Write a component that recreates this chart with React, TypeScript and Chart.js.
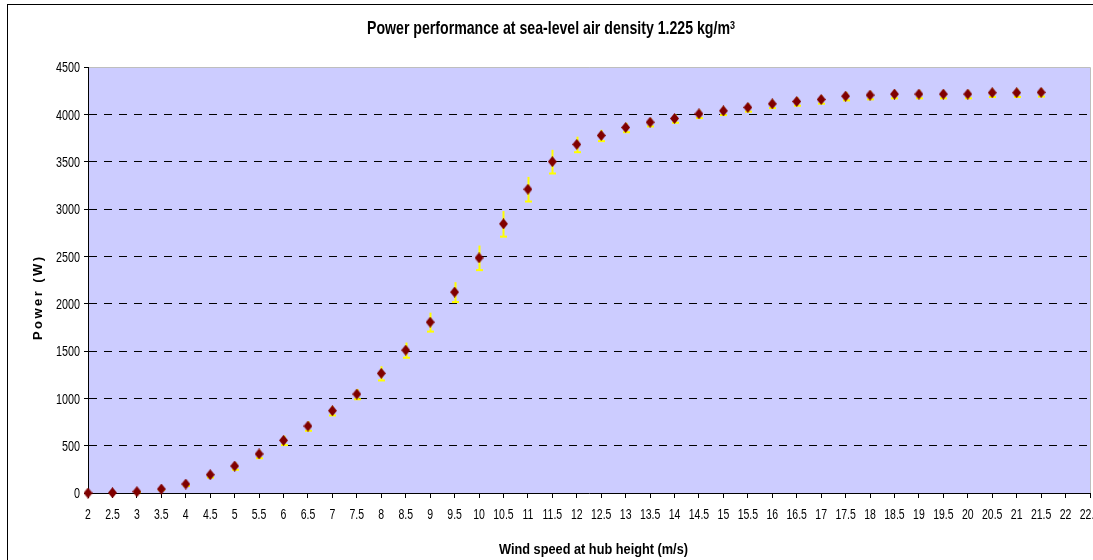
import React, { useEffect, useRef } from 'react';
import { Chart, registerables } from 'chart.js';

Chart.register(...registerables);

// ---- Data ----
const windSpeedLabels = [
  '2', '2.5', '3', '3.5', '4', '4.5', '5', '5.5', '6', '6.5', '7', '7.5', '8', '8.5',
  '9', '9.5', '10', '10.5', '11', '11.5', '12', '12.5', '13', '13.5', '14', '14.5',
  '15', '15.5', '16', '16.5', '17', '17.5', '18', '18.5', '19', '19.5', '20', '20.5',
  '21', '21.5', '22', '22.5',
];

const powerValues = [
  0, 3, 14, 42, 95, 193, 285, 412, 556, 707, 869, 1045, 1264, 1509, 1805, 2122,
  2484, 2843, 3209, 3500, 3682, 3777, 3861, 3917, 3956, 4005, 4037, 4073, 4111,
  4136, 4157, 4192, 4203, 4214, 4214, 4214, 4214, 4228, 4228, 4232,
];

const powerErrors = [
  0, 0, 5, 10, 20, 30, 40, 45, 50, 50, 50, 55, 75, 80, 100, 105, 130, 135, 130,
  125, 82, 60, 50, 45, 45, 45, 45, 45, 45, 45, 45, 45, 45, 45, 45, 45, 45, 45, 45, 45,
];

const yMin = 0;
const yMax = 4500;
const yStep = 500;

const TITLE = 'Power performance at sea-level air density 1.225 kg/m';
const TITLE_SUP = '3';
const X_TITLE = 'Wind speed at hub height (m/s)';
const Y_TITLE = 'Power (W)';

const FONT = '"Liberation Sans", Arial, Helvetica, sans-serif';

function drawScaledText(
  ctx: CanvasRenderingContext2D,
  text: string,
  x: number,
  y: number,
  font: string,
  align: 'left' | 'center' | 'right',
  sx: number
) {
  ctx.save();
  ctx.font = font;
  ctx.textBaseline = 'alphabetic';
  ctx.textAlign = 'left';
  const w = ctx.measureText(text).width * sx;
  const left = align === 'center' ? x - w / 2 : align === 'right' ? x - w : x;
  ctx.translate(left, y);
  ctx.scale(sx, 1);
  ctx.fillText(text, 0, 0);
  ctx.restore();
}

function fitText(ctx: CanvasRenderingContext2D, text: string, font: string, width: number) {
  ctx.save();
  ctx.font = font;
  const w = ctx.measureText(text).width;
  ctx.restore();
  return width / w;
}

function makeDiamond() {
  const c = document.createElement('canvas');
  c.width = 9;
  c.height = 11;
  const g = c.getContext('2d')!;
  g.fillStyle = '#800000';
  g.beginPath();
  g.moveTo(4.5, 0);
  g.lineTo(9, 5.5);
  g.lineTo(4.5, 11);
  g.lineTo(0, 5.5);
  g.closePath();
  g.fill();
  return c;
}

const backgroundPlugin = {
  id: 'bgFrame',
  beforeDraw(chart: any) {
    const { ctx, chartArea: a } = chart;
    ctx.save();
    ctx.fillStyle = '#ffffff';
    ctx.fillRect(0, 0, chart.width, chart.height);
    ctx.strokeStyle = '#000000';
    ctx.lineWidth = 1;
    ctx.strokeRect(7.5, 4.5, chart.width, chart.height);
    ctx.fillStyle = '#CCCCFF';
    ctx.fillRect(a.left, a.top, a.right - a.left, a.bottom - a.top);
    ctx.strokeStyle = '#BEBEBE';
    ctx.beginPath();
    ctx.moveTo(a.left, a.top + 0.5);
    ctx.lineTo(a.right + 0.5, a.top + 0.5);
    ctx.lineTo(a.right + 0.5, a.bottom);
    ctx.stroke();
    ctx.restore();
  },
};

const errorBarPlugin = {
  id: 'errorBars',
  beforeDatasetsDraw(chart: any) {
    const { ctx } = chart;
    const ys = chart.scales.y;
    const meta = chart.getDatasetMeta(0);
    ctx.save();
    ctx.strokeStyle = '#FFFF00';
    ctx.fillStyle = '#FFFF00';
    ctx.lineWidth = 2;
    meta.data.forEach((pt: any, i: number) => {
      const v = powerValues[i];
      const e = powerErrors[i];
      if (v === undefined || !e) return;
      const x = Math.round(pt.x) + 0.5;
      const yTop = ys.getPixelForValue(v + e);
      const yBot = ys.getPixelForValue(v - e);
      ctx.beginPath();
      ctx.moveTo(x, yTop);
      ctx.lineTo(x, yBot);
      ctx.stroke();
      ctx.fillRect(x - 3.5, yBot - 1, 7, 2);
    });
    ctx.restore();
  },
};

const textPlugin = {
  id: 'texts',
  afterDraw(chart: any) {
    const { ctx } = chart;
    const xs = chart.scales.x;
    const ys = chart.scales.y;
    ctx.save();
    ctx.fillStyle = '#000000';

    const tickFont = `15px ${FONT}`;
    ys.ticks.forEach((t: any) => {
      const py = ys.getPixelForValue(t.value);
      drawScaledText(ctx, String(t.value), 80, py + 5.4, tickFont, 'right', 0.72);
    });
    windSpeedLabels.forEach((lab, i) => {
      const px = xs.getPixelForValue(i);
      drawScaledText(ctx, lab, px, 518.5, tickFont, 'center', 0.7);
    });

    // Title
    const titleFont = `bold 19px ${FONT}`;
    const tsx = fitText(ctx, TITLE, titleFont, 363);
    drawScaledText(ctx, TITLE, 367, 34, titleFont, 'left', tsx);
    drawScaledText(ctx, TITLE_SUP, 730, 28.5, `bold 10px ${FONT}`, 'left', 0.9);

    // X title
    const xtFont = `bold 15px ${FONT}`;
    const xsx = fitText(ctx, X_TITLE, xtFont, 189);
    drawScaledText(ctx, X_TITLE, 593.5, 554, xtFont, 'center', xsx);

    // Y title (letter-spaced, rotated)
    const ytFont = `bold 13px ${FONT}`;
    ctx.font = ytFont;
    const chars = Y_TITLE.split('');
    const widths = chars.map((c) => ctx.measureText(c).width);
    const sum = widths.reduce((a, b) => a + b, 0);
    const total = 83;
    const gap = (total - sum) / (chars.length - 1);
    ctx.save();
    ctx.translate(41.5, 298.5);
    ctx.rotate(-Math.PI / 2);
    ctx.textBaseline = 'alphabetic';
    ctx.textAlign = 'left';
    let cx = -total / 2;
    chars.forEach((c, i) => {
      ctx.fillText(c, cx, 0);
      cx += widths[i] + gap;
    });
    ctx.restore();

    ctx.restore();
  },
};

export default function App() {
  const ref = useRef<HTMLCanvasElement | null>(null);

  useEffect(() => {
    if (!ref.current) return;
    const diamond = makeDiamond();
    const chart = new Chart(ref.current, {
      type: 'line',
      data: {
        labels: windSpeedLabels,
        datasets: [
          {
            label: 'Power',
            data: powerValues,
            showLine: false,
            pointStyle: diamond as any,
            pointRadius: 5,
            pointHoverRadius: 5,
            borderColor: '#800000',
            backgroundColor: '#800000',
            clip: false as any,
          },
        ],
      },
      options: {
        responsive: false,
        maintainAspectRatio: false,
        animation: false,
        devicePixelRatio: 1,
        events: [],
        layout: { padding: { left: 0, top: 67, right: 30, bottom: 0 } },
        plugins: {
          legend: { display: false },
          title: { display: false },
          tooltip: { enabled: false },
        },
        scales: {
          x: {
            type: 'category',
            offset: false,
            ticks: { display: false, autoSkip: false },
            grid: {
              display: true,
              drawOnChartArea: false,
              drawTicks: true,
              tickLength: 5,
              color: '#000000',
              tickColor: '#000000',
            },
            border: { display: true, color: '#000000', width: 1 },
            afterFit: (s: any) => {
              s.height = 107;
            },
          },
          y: {
            type: 'linear',
            min: yMin,
            max: yMax,
            ticks: { display: false, stepSize: yStep },
            grid: {
              display: true,
              drawOnChartArea: true,
              drawTicks: true,
              tickLength: 4,
              lineWidth: 1,
              color: (c: any) =>
                c.tick && (c.tick.value === yMin || c.tick.value === yMax)
                  ? 'rgba(0,0,0,0)'
                  : '#000000',
              tickColor: '#000000',
            },
            border: { display: true, color: '#000000', width: 1, dash: [8, 7] },
            afterFit: (s: any) => {
              s.width = 88;
            },
          },
        },
      },
      plugins: [backgroundPlugin, errorBarPlugin, textPlugin],
    });
    return () => chart.destroy();
  }, []);

  return (
    <div
      style={{
        position: 'fixed',
        left: 0,
        top: 0,
        width: 1093,
        height: 560,
        overflow: 'hidden',
        background: '#ffffff',
      }}
    >
      <canvas
        ref={ref}
        width={1120}
        height={600}
        style={{ display: 'block', width: 1120, height: 600 }}
      />
    </div>
  );
}
